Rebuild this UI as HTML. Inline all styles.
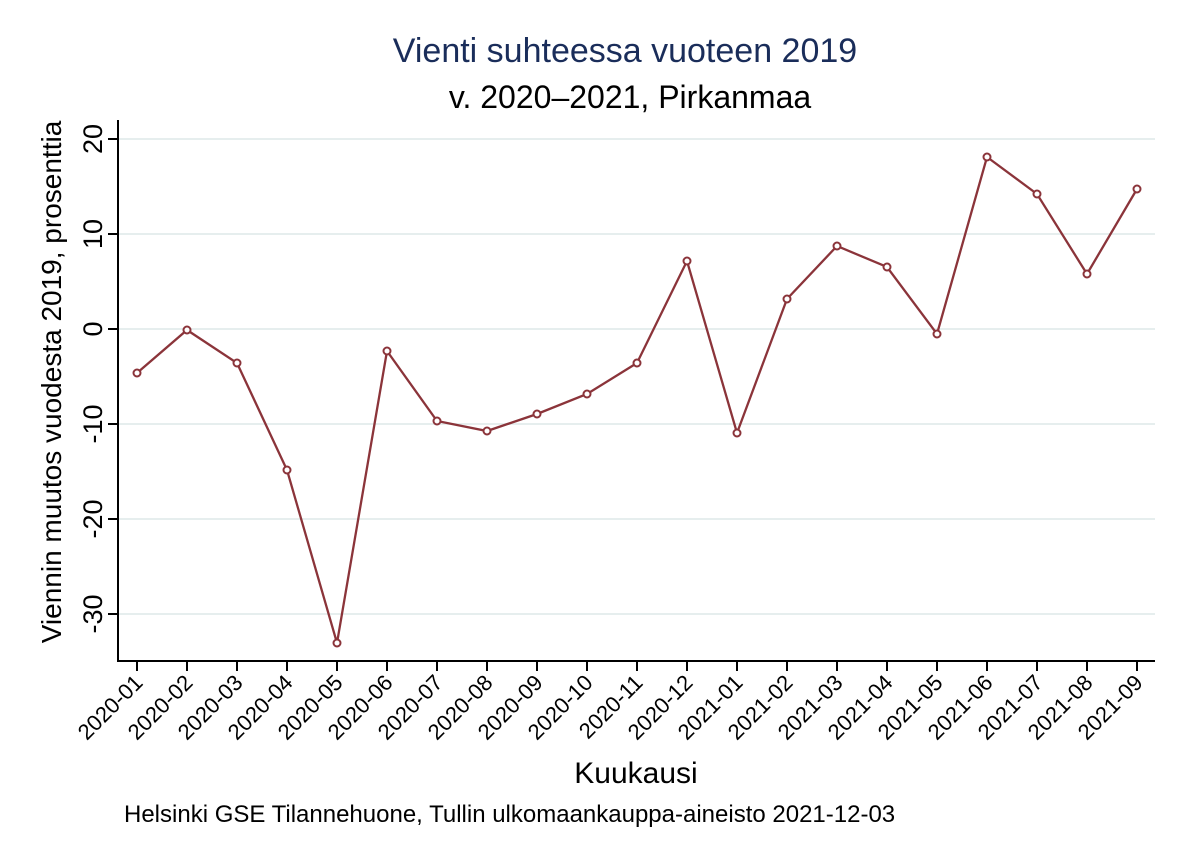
<!DOCTYPE html>
<html><head><style>body{margin:0;background:#fff}svg{display:block}</style></head><body>
<svg width="1186" height="862" xmlns="http://www.w3.org/2000/svg" font-family="Liberation Sans, Arial, sans-serif">
<rect width="1186" height="862" fill="#fff"/>
<text x="625" y="62" font-size="34" fill="#1a2d5a" text-anchor="middle">Vienti suhteessa vuoteen 2019</text>
<text x="630" y="108" font-size="32" fill="#000" text-anchor="middle">v. 2020–2021, Pirkanmaa</text>
<g stroke="#e6eeee" stroke-width="2">
<line x1="119" x2="1155" y1="139" y2="139"/><line x1="119" x2="1155" y1="234" y2="234"/>
<line x1="119" x2="1155" y1="329" y2="329"/><line x1="119" x2="1155" y1="424" y2="424"/>
<line x1="119" x2="1155" y1="519" y2="519"/><line x1="119" x2="1155" y1="614" y2="614"/>
</g>
<g stroke="#000" stroke-width="2" fill="none">
<polyline points="118,120 118,661 1155,661"/>
<line x1="108" x2="118" y1="139" y2="139"/><line x1="108" x2="118" y1="234" y2="234"/>
<line x1="108" x2="118" y1="329" y2="329"/><line x1="108" x2="118" y1="424" y2="424"/>
<line x1="108" x2="118" y1="519" y2="519"/><line x1="108" x2="118" y1="614" y2="614"/>
</g>
<g font-size="27" text-anchor="middle" fill="#000">
<text transform="translate(102,139) rotate(-90)">20</text>
<text transform="translate(102,234) rotate(-90)">10</text>
<text transform="translate(102,329) rotate(-90)">0</text>
<text transform="translate(102,424) rotate(-90)">-10</text>
<text transform="translate(102,519) rotate(-90)">-20</text>
<text transform="translate(102,614) rotate(-90)">-30</text>
</g>
<text transform="translate(61,382) rotate(-90)" font-size="28" text-anchor="middle">Viennin muutos vuodesta 2019, prosenttia</text>
<g id="xt" stroke="#000" stroke-width="2"></g>
<g id="xl" font-size="22" text-anchor="end"></g>
<polyline id="ln" fill="none" stroke="#8b343a" stroke-width="2.3"/>
<g id="mk" fill="#fff" stroke="#8b343a" stroke-width="2"></g>
<text x="636" y="783" font-size="30" text-anchor="middle">Kuukausi</text>
<text x="124" y="822" font-size="24">Helsinki GSE Tilannehuone, Tullin ulkomaankauppa-aineisto 2021-12-03</text>
<script>
var ys=[373,330,363,470,643,351,421,431,414,394,363,261,433,299,246,267,334,157,194,274,189];
var lab=["2020-01","2020-02","2020-03","2020-04","2020-05","2020-06","2020-07","2020-08","2020-09","2020-10","2020-11","2020-12","2021-01","2021-02","2021-03","2021-04","2021-05","2021-06","2021-07","2021-08","2021-09"];
var ns="http://www.w3.org/2000/svg",pts=[];
ys.forEach(function(y,i){var x=137+50*i;pts.push(x+","+y);
var l=document.createElementNS(ns,"line");l.setAttribute("x1",x);l.setAttribute("x2",x);l.setAttribute("y1",661);l.setAttribute("y2",671);document.getElementById("xt").appendChild(l);
var t=document.createElementNS(ns,"text");t.setAttribute("transform","translate("+(x+7)+",684) rotate(-45)");t.textContent=lab[i];document.getElementById("xl").appendChild(t);
var c=document.createElementNS(ns,"circle");c.setAttribute("cx",x);c.setAttribute("cy",y);c.setAttribute("r",3.5);document.getElementById("mk").appendChild(c);});
document.getElementById("ln").setAttribute("points",pts.join(" "));
</script>
</svg>
</body></html>
